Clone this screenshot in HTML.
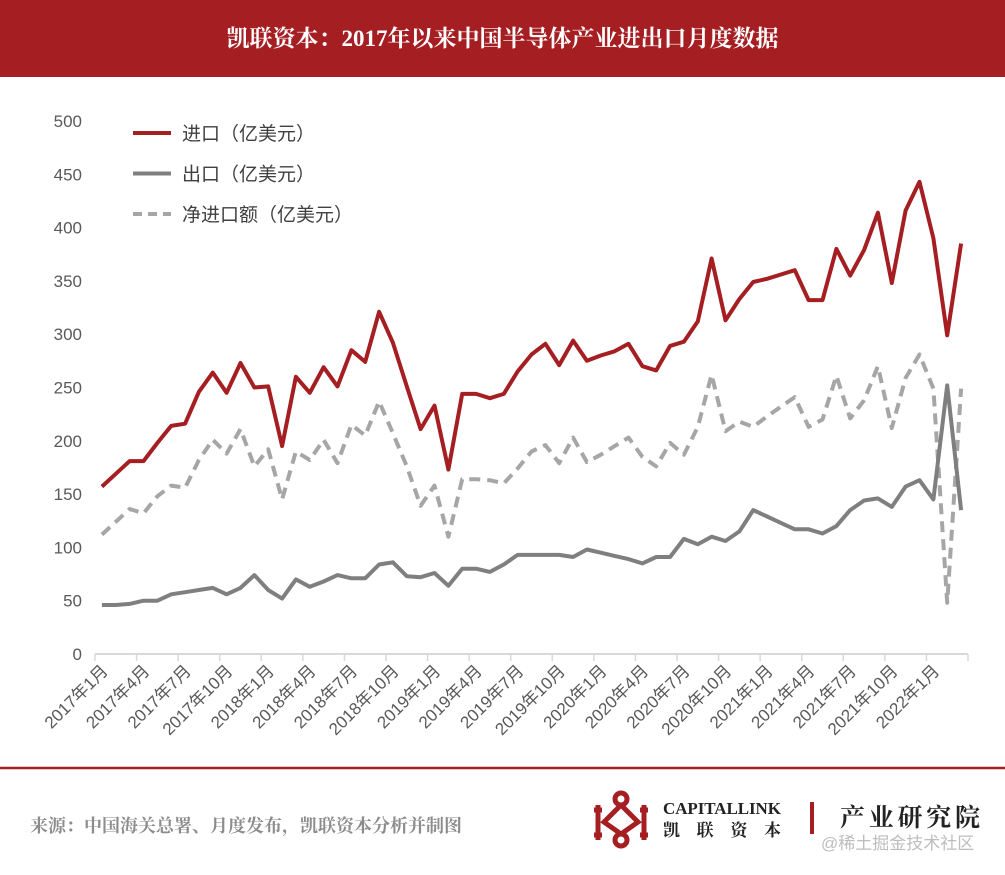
<!DOCTYPE html>
<html><head><meta charset="utf-8">
<style>
body{margin:0;width:1005px;height:875px;background:#fff;overflow:hidden;position:relative;font-family:"Liberation Sans","Noto Sans CJK SC",sans-serif}
#title{position:absolute;left:0;top:0;width:1005px;height:77px;background:#a51e22;color:#fff;font-family:"Liberation Serif","Noto Serif CJK SC",serif;font-weight:bold;font-size:23px;line-height:77px;text-align:center}
svg{position:absolute;left:0;top:0}
</style></head><body>
<div id="title">凯联资本：2017年以来中国半导体产业进出口月度数据</div>
<svg id="chart" width="1005" height="875"></svg>
<script>
const importVals=[157,169,181,181,198,214,216,246,264,245,273,250,251,195,260,245,269,251,285,274,321,292,251,211,233,173,244,244,240,244,265,281,291,271,294,275,280,284,291,270,266,289,293,312,371,313,333,349,352,356,360,332,332,380,355,379,414,348,416,443,390,299,385];
const exportVals=[46,46,47,50,50,56,58,60,62,56,62,74,60,52,70,63,68,74,71,71,84,86,73,72,76,64,80,80,77,84,93,93,93,93,91,98,95,92,89,85,91,91,108,103,110,106,115,135,129,123,117,117,113,120,135,144,146,138,157,163,145,252,135];
const netVals=[112,124,136,132,148,158,156,182,201,188,211,176,192,145,190,182,201,179,215,205,237,207,176,139,158,110,164,164,163,160,174,190,196,179,203,180,187,195,203,185,176,198,187,213,262,209,218,213,223,232,241,213,220,261,221,238,270,212,259,281,249,48,249];
const xTickLabels=["2017年1月","2017年4月","2017年7月","2017年10月","2018年1月","2018年4月","2018年7月","2018年10月","2019年1月","2019年4月","2019年7月","2019年10月","2020年1月","2020年4月","2020年7月","2020年10月","2021年1月","2021年4月","2021年7月","2021年10月","2022年1月"];
const yTicks=[0,50,100,150,200,250,300,350,400,450,500];

const NS="http://www.w3.org/2000/svg";
const svg=document.getElementById('chart');
const N=importVals.length;
const x0=95,x1=968,yBase=654,yTop=121;
const cw=(x1-x0)/N;
const xS=i=>x0+cw*(i+0.5);
const yS=v=>yBase-(v/500)*(yBase-yTop);
function mk(t,a){const e=document.createElementNS(NS,t);for(const k in a)e.setAttribute(k,a[k]);svg.appendChild(e);return e;}

yTicks.forEach(v=>{
  const t=mk('text',{x:82,y:yS(v)+6,'text-anchor':'end','font-size':17,fill:'#595959'});
  t.textContent=v;
  
  
});
const ax=mk('line',{x1:x0,y1:yBase,x2:x1,y2:yBase,stroke:'#d9d9d9','stroke-width':2});


for(let k=0;k<=N;k+=3){
  const xx=x0+cw*k;
  const tk=mk('line',{x1:xx,y1:yBase,x2:xx,y2:yBase+7,stroke:'#d9d9d9','stroke-width':1.5});
  
  
}
xTickLabels.forEach((l,j)=>{
  const cx=xS(j*3)+7, cy=672;
  const t=mk('text',{x:cx,y:cy,'text-anchor':'end','font-size':17,fill:'#595959',transform:`rotate(-45 ${cx} ${cy})`});
  t.textContent=l;
  
  
});
function line(vals,style,name){
  const d=vals.map((v,i)=>(i?'L':'M')+xS(i).toFixed(1)+' '+yS(v).toFixed(1)).join(' ');
  const p=mk('path',Object.assign({d:d,fill:'none','stroke-linejoin':'round'},style));
  
  
}
line(netVals,{stroke:'#a6a6a6','stroke-width':4,'stroke-dasharray':'11,7'},'net-import-line');
line(exportVals,{stroke:'#7f7f7f','stroke-width':4},'export-line');
line(importVals,{stroke:'#a51e22','stroke-width':4},'import-line');

const leg=[['进口（亿美元）',{stroke:'#a51e22','stroke-width':4}],['出口（亿美元）',{stroke:'#7f7f7f','stroke-width':4}],['净进口额（亿美元）',{stroke:'#a6a6a6','stroke-width':4,'stroke-dasharray':'9,6'}]];
leg.forEach((L,i)=>{
  const y=133+i*40.5;
  const s=mk('line',Object.assign({x1:133,y1:y,x2:171,y2:y},L[1]));
  
  
  const t=mk('text',{x:182,y:y+7,'font-size':19,fill:'#404040'});
  t.textContent=L[0];
  
  
});

const fl=mk('line',{x1:0,y1:768,x2:1005,y2:768,stroke:'#a51e22','stroke-width':2.5});


const src=mk('text',{x:30,y:832,'font-size':18,'font-weight':'bold',fill:'#8c8c8c','font-family':'"Liberation Serif","Noto Serif CJK SC",serif'});
src.textContent='来源：中国海关总署、月度发布，凯联资本分析并制图';


const g=mk('g',{stroke:'#a51e22','stroke-width':5,fill:'none'});


g.innerHTML='<circle cx="621" cy="799" r="6"/><circle cx="621" cy="840" r="6"/><path d="M621 805 L604 822 L621 834 M621 805 L638 822 L621 834"/><path d="M598 805 V840 M644 805 V840 M594 810 H602 M594 835 H602 M640 810 H648 M640 835 H648"/>';
const c1=mk('text',{x:663,y:814,'font-size':17,'font-weight':'bold',fill:'#222','font-family':'"Liberation Serif",serif',textLength:118});
c1.textContent='CAPITALLINK';


const c2=mk('text',{x:663,y:836,'font-size':17,'font-weight':'bold',fill:'#222','font-family':'"Noto Serif CJK SC",serif',textLength:118});
c2.textContent='凯联资本';


const vb=mk('rect',{x:810,y:802,width:4,height:32,fill:'#a51e22'});


const c3=mk('text',{x:840,y:826,'font-size':25,'font-weight':'bold',fill:'#222','font-family':'"Noto Serif CJK SC",serif',textLength:140});
c3.textContent='产业研究院';


const wm=mk('text',{x:821,y:849,'font-size':17,fill:'#bdbdbd'});
wm.textContent='@稀土掘金技术社区';


</script>
</body></html>
